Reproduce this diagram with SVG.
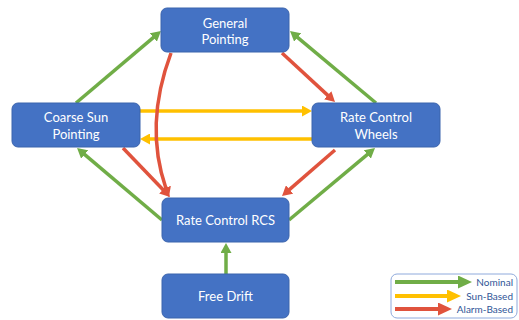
<svg xmlns="http://www.w3.org/2000/svg" width="519" height="320" viewBox="0 0 519 320">
<style>
.node rect{fill:#4472C4;stroke:#3B64AD;stroke-width:1}
.node text{fill:#FFFFFF;font-family:Lato,"Liberation Sans",Arial,sans-serif;font-size:13px;text-anchor:middle}
.c{fill:none;stroke-width:3.5}
.g{stroke:#70AD47}
.y{stroke:#FFC000}
.r{stroke:#E0533D}
.lg text{fill:#2F5597;font-family:Lato,"Liberation Sans",Arial,sans-serif;font-size:10px;text-anchor:end}
</style>
<defs>
<marker id="ag" viewBox="0 0 10 11" markerWidth="10" markerHeight="11" refX="1" refY="5.5" orient="auto" markerUnits="userSpaceOnUse"><path d="M0,0L10,5.5L0,11z" fill="#70AD47"/></marker>
<marker id="ay" viewBox="0 0 10 11" markerWidth="10" markerHeight="11" refX="1" refY="5.5" orient="auto" markerUnits="userSpaceOnUse"><path d="M0,0L10,5.5L0,11z" fill="#FFC000"/></marker>
<marker id="ar" viewBox="0 0 10 11" markerWidth="10" markerHeight="11" refX="1" refY="5.5" orient="auto" markerUnits="userSpaceOnUse"><path d="M0,0L10,5.5L0,11z" fill="#E0533D"/></marker>
<marker id="lg" viewBox="0 0 14 13" markerWidth="14" markerHeight="13" refX="1" refY="6.5" orient="auto" markerUnits="userSpaceOnUse"><path d="M0,0L14,6.5L0,13z" fill="#70AD47"/></marker>
<marker id="ly" viewBox="0 0 14 13" markerWidth="14" markerHeight="13" refX="1" refY="6.5" orient="auto" markerUnits="userSpaceOnUse"><path d="M0,0L14,6.5L0,13z" fill="#FFC000"/></marker>
<marker id="lr" viewBox="0 0 14 13" markerWidth="14" markerHeight="13" refX="1" refY="6.5" orient="auto" markerUnits="userSpaceOnUse"><path d="M0,0L14,6.5L0,13z" fill="#E0533D"/></marker>
</defs>
<g id="connectors">
<line class="c g" x1="76" y1="103" x2="154.1" y2="36.8" marker-end="url(#ag)"/>
<line class="c g" x1="376" y1="103" x2="296.9" y2="36.8" marker-end="url(#ag)"/>
<line class="c r" x1="282" y1="53" x2="328.4" y2="95.9" marker-end="url(#ar)"/>
<line class="c y" x1="140" y1="111" x2="303" y2="111" marker-end="url(#ay)"/>
<line class="c y" x1="312" y1="139" x2="149" y2="139" marker-end="url(#ay)"/>
<line class="c r" x1="123" y1="148" x2="163.8" y2="190.5" marker-end="url(#ar)"/>
<line class="c g" x1="162" y1="220" x2="83.9" y2="153.8" marker-end="url(#ag)"/>
<line class="c r" x1="335" y1="150" x2="288.8" y2="190.1" marker-end="url(#ar)"/>
<line class="c g" x1="289" y1="220" x2="368.1" y2="153.8" marker-end="url(#ag)"/>
<line class="c g" x1="226" y1="274" x2="226" y2="252" marker-end="url(#ag)"/>
<path class="c r" d="M171,53Q144,125 166,188.5" marker-end="url(#ar)"/>
</g>
<g id="general-pointing" class="node"><rect x="161" y="8" width="128" height="44" rx="6"/><text x="225" y="27.5">General</text><text x="225" y="44">Pointing</text></g>
<g id="coarse-sun-pointing" class="node"><rect x="12" y="103" width="128" height="44" rx="6"/><text x="76" y="122">Coarse Sun</text><text x="76" y="138.5">Pointing</text></g>
<g id="rate-control-wheels" class="node"><rect x="312" y="103" width="128" height="44" rx="6"/><text x="376" y="122">Rate Control</text><text x="376" y="138.5">Wheels</text></g>
<g id="rate-control-rcs" class="node"><rect x="162" y="198" width="127" height="44" rx="6"/><text x="225.5" y="225">Rate Control RCS</text></g>
<g id="free-drift" class="node"><rect x="162" y="274" width="127" height="44" rx="6"/><text x="225.5" y="301">Free Drift</text></g>
<g id="legend" class="lg">
<rect x="391" y="274" width="126" height="44" rx="6" fill="#FFFFFF" stroke="#8FAADC" stroke-width="1"/>
<line x1="395" y1="282" x2="459" y2="282" stroke="#70AD47" stroke-width="4" marker-end="url(#lg)"/>
<line x1="395" y1="296" x2="448" y2="296" stroke="#FFC000" stroke-width="4" marker-end="url(#ly)"/>
<line x1="395" y1="309" x2="439" y2="309" stroke="#E0533D" stroke-width="4" marker-end="url(#lr)"/>
<text x="513" y="285.5">Nominal</text>
<text x="513" y="299.5">Sun-Based</text>
<text x="513" y="312.5">Alarm-Based</text>
</g>
</svg>
